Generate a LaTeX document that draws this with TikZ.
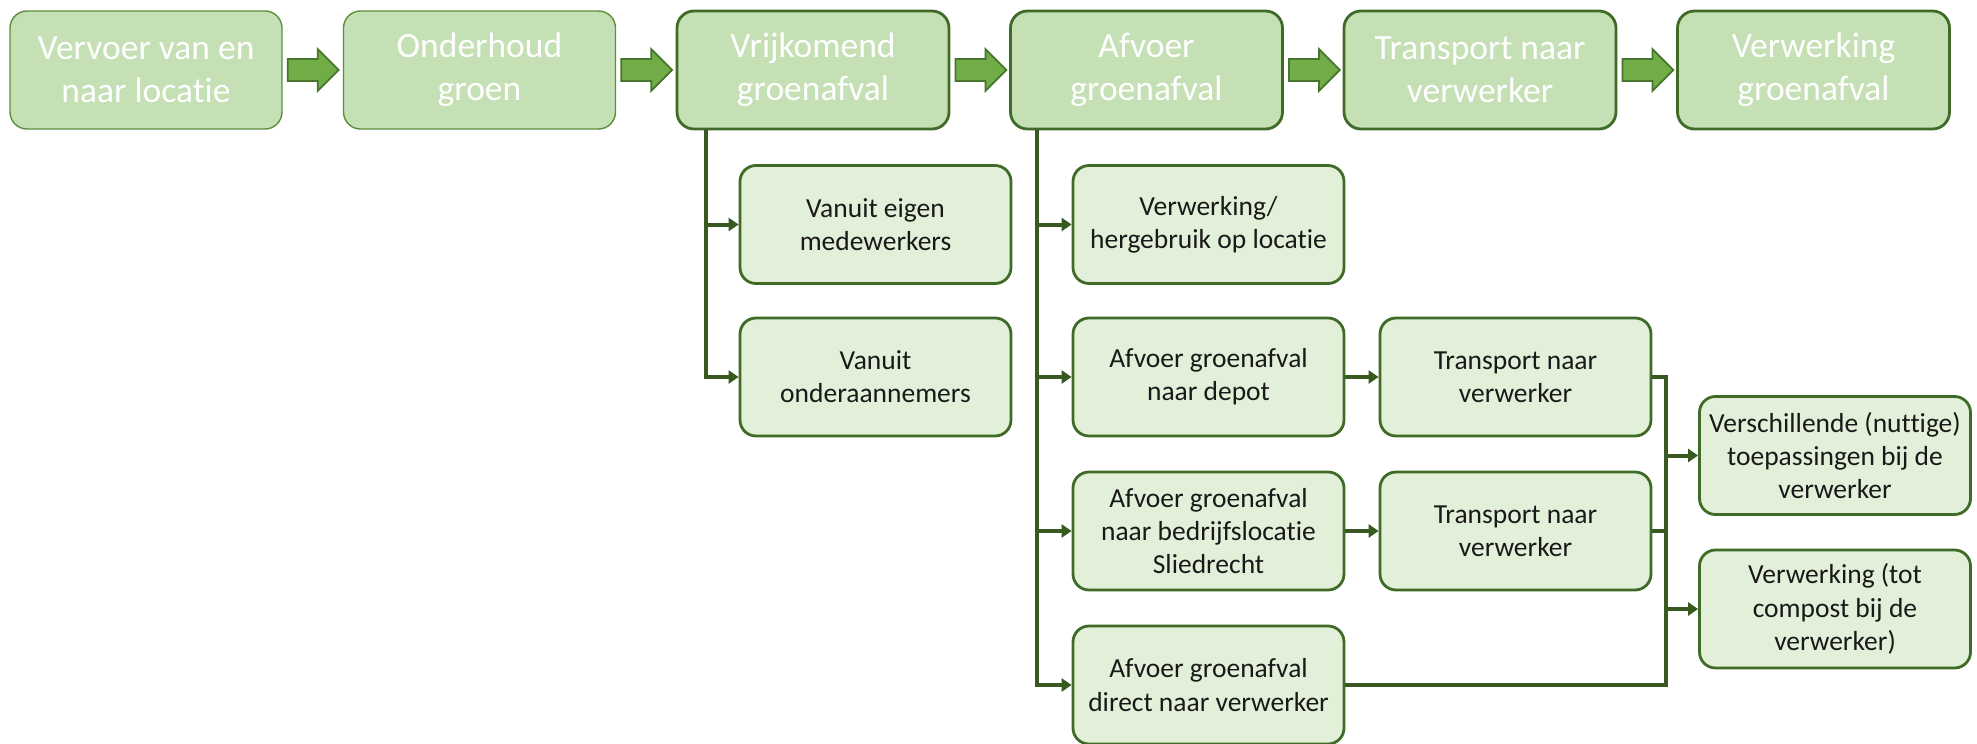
\documentclass[tikz,border=0pt]{standalone}
\usepackage{fontspec}
\setmainfont{Carlito}[Ligatures={NoCommon}]
\usetikzlibrary{arrows.meta}
\definecolor{topfill}{HTML}{C5E0B4}
\definecolor{subfill}{HTML}{E2F0D9}
\definecolor{darkb}{HTML}{3F6A27}
\definecolor{thinb}{HTML}{5E8E3E}
\definecolor{linec}{HTML}{38591F}
\definecolor{arrfill}{HTML}{70AD47}
\definecolor{arrb}{HTML}{46752B}
\tikzset{
  topbox/.style={draw=darkb, line width=1.4pt, fill=topfill, rounded corners=8.5pt,
    minimum width=136pt, minimum height=59pt, inner sep=0pt, align=center,
    text=white, font=\fontsize{17.75}{21.5}\selectfont},
  topthin/.style={topbox, draw=thinb, line width=0.7pt},
  subbox/.style={draw=darkb, line width=1.4pt, fill=subfill, rounded corners=8pt,
    minimum width=135.5pt, minimum height=59pt, inner sep=0pt, align=center,
    text=black!90, font=\fontsize{13.75}{16.6}\selectfont},
  conn/.style={draw=linec, line width=2pt, -{Triangle[length=5pt,width=6.5pt]}},
  plainline/.style={draw=linec, line width=2pt},
  bigarrow/.style={draw=arrb, line width=0.9pt, fill=arrfill, line join=miter}
}
\begin{document}
\begin{tikzpicture}[x=0.5pt,y=-0.5pt]
\useasboundingbox (0,0) rectangle (1977,744);
% top row
\node[topthin] (b1) at (146,70) {Vervoer van en\\naar locatie};
\node[topthin] (b2) at (479.5,70) {Onderhoud\\groen};
\node[topbox] (b3) at (813,70) {Vrijkomend\\groenafval};
\node[topbox] (b4) at (1146.5,70) {Afvoer\\groenafval};
\node[topbox] (b5) at (1480,70) {Transport naar\\verwerker};
\node[topbox] (b6) at (1813.5,70) {Verwerking\\groenafval};
% block arrows
\foreach \b in {b1,b2,b3,b4,b5}{
  \draw[bigarrow] ([xshift=2.5pt,yshift=5.5pt]\b.east) -- ++(15pt,0) -- ++(0,5pt)
    -- ++(10.5pt,-10.5pt) -- ++(-10.5pt,-10.5pt) -- ++(0,5pt) -- ++(-15pt,0) -- cycle;
}
% column 1
\node[subbox] (s11) at (875.5,224.5) {Vanuit eigen\\medewerkers};
\node[subbox] (s12) at (875.5,377) {Vanuit\\onderaannemers};
% column 2
\node[subbox] (s21) at (1208.5,224.5) {Verwerking/\\hergebruik op locatie};
\node[subbox] (s22) at (1208.5,377) {Afvoer groenafval\\naar depot};
\node[subbox] (s23) at (1208.5,531) {Afvoer groenafval\\naar bedrijfslocatie\\Sliedrecht};
\node[subbox] (s24) at (1208.5,685) {Afvoer groenafval\\direct naar verwerker};
% column 3
\node[subbox] (t1) at (1515.5,377) {Transport naar\\verwerker};
\node[subbox] (t2) at (1515.5,531) {Transport naar\\verwerker};
% column 4
\node[subbox] (v1) at (1835,455.5) {Verschillende (nuttige)\\toepassingen bij de\\verwerker};
\node[subbox] (v2) at (1835,609) {Verwerking (tot\\compost bij de\\verwerker)};
% trunks
\draw[conn] ([xshift=15pt]b3.south west) |- (s11.west);
\draw[conn] ([xshift=15pt]b3.south west) |- (s12.west);
\draw[conn] ([xshift=14pt]b4.south west) |- (s21.west);
\draw[conn] ([xshift=14pt]b4.south west) |- (s22.west);
\draw[conn] ([xshift=14pt]b4.south west) |- (s23.west);
\draw[conn] ([xshift=14pt]b4.south west) |- (s24.west);
% horizontal
\draw[conn] (s22.east) -- (t1.west);
\draw[conn] (s23.east) -- (t2.west);
% merge
\coordinate (mx) at (1666,0);
\draw[plainline, line join=miter] (t1.east) -- (t1.east -| mx) -- (s24.east -| mx) -- (s24.east);
\draw[plainline] (t2.east) -- (t2.east -| mx);
\draw[conn] (v1.west -| mx) -- (v1.west);
\draw[conn] (v2.west -| mx) -- (v2.west);
\end{tikzpicture}
\end{document}
